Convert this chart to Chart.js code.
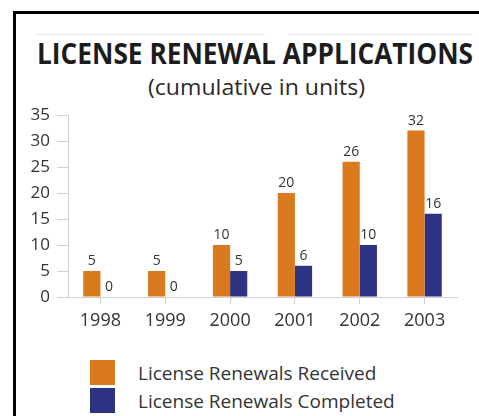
<!DOCTYPE html>
<html>
<head>
<meta charset="utf-8">
<script src="https://cdn.jsdelivr.net/npm/chart.js@4"></script>
<style>
  html, body { margin: 0; padding: 0; background: #fff; width: 479px; height: 416px; overflow: hidden; }
  #frame { position: absolute; left: 13px; top: 11px; width: 600px; height: 600px; border-left: 3px solid #000; border-top: 3px solid #000; }
  #rule { position: absolute; left: 35px; top: 34px; width: 438px; height: 1px; background: linear-gradient(to right, #eeebe0 0, #eeebe0 230px, transparent 230px, transparent 253px, #eeebe0 253px); }
  .fit { position: absolute; white-space: nowrap; font-family: "Open Sans", sans-serif; transform-origin: 0 0; }
  #title { top: 36px; font-weight: 700; font-size: 28px; line-height: 34px; color: #1c1c1c; }
  #subtitle { top: 73px; font-size: 21px; line-height: 28px; color: #2a2a2a; }
  #chartwrap { position: absolute; left: 0; top: 0; }
  #legend { position: absolute; left: 90px; top: 360px; font-family: "Open Sans", sans-serif; font-size: 19px; color: #333; }
  .item { display: flex; align-items: center; height: 25px; margin-bottom: 3px; }
  .sw { width: 25px; height: 25px; margin-right: 23px; }
</style>
</head>
<body>
<div id="frame"></div>
<div id="rule"></div>
<div id="title" class="fit">LICENSE RENEWAL APPLICATIONS</div>
<div id="subtitle" class="fit">(cumulative in units)</div>
<div id="chartwrap"><canvas id="c" width="479" height="345"></canvas></div>
<div id="legend"></div>
<script>
const years = ["1998", "1999", "2000", "2001", "2002", "2003"];
const received = [5, 5, 10, 20, 26, 32];
const completed = [0, 0, 5, 6, 10, 16];
const seriesNames = ["License Renewals Received", "License Renewals Completed"];
const yTicks = [0, 5, 10, 15, 20, 25, 30, 35];

const colors = ["#DA7A1E", "#2E3283"];
const font = "'Open Sans', sans-serif";

function fitText(id, left, right) {
  const el = document.getElementById(id);
  const w = el.getBoundingClientRect().width;
  const target = right - left;
  el.style.left = left + 'px';
  el.style.transform = 'scaleX(' + (target / w) + ')';
}
fitText('title', 37, 473);
fitText('subtitle', 148, 365);

const valueLabels = {
  id: 'valueLabels',
  afterDatasetsDraw(chart) {
    const ctx = chart.ctx;
    ctx.save();
    ctx.font = "14px " + font;
    ctx.fillStyle = "#333";
    ctx.textAlign = "center";
    ctx.textBaseline = "bottom";
    chart.data.datasets.forEach((ds, i) => {
      const meta = chart.getDatasetMeta(i);
      meta.data.forEach((el, j) => {
        ctx.fillText(String(ds.data[j]), el.x, el.y - 3);
      });
    });
    ctx.restore();
  }
};

const chart = new Chart(document.getElementById('c'), {
  type: 'bar',
  data: {
    labels: years,
    datasets: [
      { label: seriesNames[0], data: received, backgroundColor: colors[0], categoryPercentage: 0.53, barPercentage: 1.0 },
      { label: seriesNames[1], data: completed, backgroundColor: colors[1], categoryPercentage: 0.53, barPercentage: 1.0 }
    ]
  },
  options: {
    responsive: false,
    animation: false,
    devicePixelRatio: 1,
    layout: { padding: { top: 115, right: 22, left: 0, bottom: 0 } },
    plugins: { legend: { display: false }, tooltip: { enabled: false }, title: { display: false } },
    scales: {
      x: {
        offset: true,
        grid: { display: true, drawOnChartArea: false, offset: false, tickLength: 7, color: '#cfcfcf' },
        border: { display: true, color: '#cfcfcf', width: 1 },
        ticks: { color: '#333', font: { family: font, size: 18 }, padding: 6, maxRotation: 0 },
        afterFit(s) { s.height = 48; }
      },
      y: {
        min: 0, max: 35,
        afterBuildTicks(s) { s.ticks = yTicks.map(v => ({ value: v })); },
        grid: { display: true, drawOnChartArea: false, tickLength: 11, color: '#cfcfcf' },
        border: { display: true, color: '#cfcfcf', width: 1 },
        ticks: { color: '#333', font: { family: font, size: 17 }, padding: 7 },
        afterFit(s) { s.width = 68; }
      }
    }
  },
  plugins: [valueLabels]
});

const legend = document.getElementById('legend');
chart.data.datasets.forEach(ds => {
  const it = document.createElement('div');
  it.className = 'item';
  const sw = document.createElement('div');
  sw.className = 'sw';
  sw.style.background = ds.backgroundColor;
  const t = document.createElement('span');
  t.textContent = ds.label;
  it.appendChild(sw); it.appendChild(t);
  legend.appendChild(it);
});
</script>
</body>
</html>
